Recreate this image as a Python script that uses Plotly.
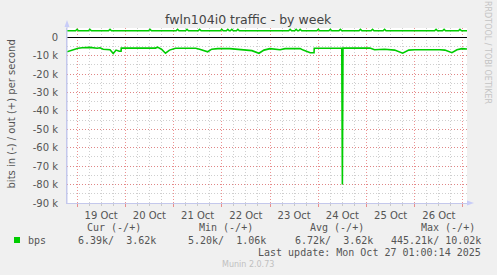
import pandas as pd
import plotly.graph_objects as go

# ---------------- data ----------------
BASE = pd.Timestamp("2025-10-18 19:00")
SPAN_HOURS = 199

# inbound (plotted negative), hours after BASE and kbit/s
in_hours = [0, 1.5, 3.5, 5.5, 7.5, 11.4, 15, 16.4, 18, 21.4, 23, 24.4, 26, 26.9, 27,
            44, 45, 47, 49, 51, 54, 64, 66, 70, 72, 75, 81, 86, 92, 95.5, 98, 101,
            106, 108.5, 116, 117.5, 121, 122.9, 123, 136.7, 137, 137.3, 150.7, 153,
            158, 163, 167, 170, 173, 185.5, 188, 191.5, 194, 196.5, 199]
in_kbps = [-7.9, -7.3, -6.5, -6.0, -5.7, -5.5, -6.0, -5.7, -6.5, -6.8, -8.9, -7.0, -7.6, -7.6, -5.9,
           -5.9, -5.4, -6.5, -8.7, -7.0, -6.0, -6.0, -6.5, -7.9, -6.5, -6.2, -6.2, -6.8, -7.3, -8.7, -7.0, -6.2,
           -6.8, -6.2, -6.2, -7.0, -8.4, -8.4, -6.0, -6.0, -80.0, -5.9, -5.9, -6.8,
           -6.5, -7.0, -8.7, -7.0, -6.8, -6.8, -7.0, -8.4, -6.8, -6.2, -6.4]

# outbound, mostly flat with small blips
out_base_kbps = 3.5
out_blip_kbps = 4.3
out_blip_hours = [5, 11.4, 21.4, 41.3, 55, 59.7, 66, 77, 80, 82, 85, 111, 114, 116,
                  125, 131, 136, 146, 152, 158, 183.6, 187.6, 195.5]

ytick_vals = [0, -10000, -20000, -30000, -40000, -50000, -60000, -70000, -80000, -90000]
ytick_text = ["0", "-10 k", "-20 k", "-30 k", "-40 k", "-50 k", "-60 k", "-70 k", "-80 k", "-90 k"]

legend_headers = ["Cur (-/+)", "Min (-/+)", "Avg (-/+)", "Max (-/+)"]
legend_values = ["6.39k/  3.62k", "5.20k/  1.06k", "6.72k/  3.62k", "445.21k/ 10.02k"]
series_name = "bps"

# ---------------- build ----------------
GREEN = "#00CC00"
in_x = [BASE + pd.Timedelta(hours=h) for h in in_hours]
in_y = [v * 1000 for v in in_kbps]

out_h = [0]
out_v = [out_base_kbps]
for h in out_blip_hours:
    out_h += [h - 0.7, h, h + 0.7]
    out_v += [out_base_kbps, out_blip_kbps, out_base_kbps]
out_h.append(SPAN_HOURS)
out_v.append(out_base_kbps)
out_x = [BASE + pd.Timedelta(hours=h) for h in out_h]
out_y = [v * 1000 for v in out_v]

W, H = 497, 275
L, R, T, B = 67, 30, 28, 72
PW, PH = W - L - R, H - T - B


def px(x):
    return (x - L) / PW


def py(y):
    return (H - B - y) / PH


fig = go.Figure()
fig.add_trace(go.Scatter(x=in_x, y=in_y, mode="lines", line=dict(color=GREEN, width=1.6),
                         name="in", hoverinfo="skip"))
fig.add_trace(go.Scatter(x=out_x, y=out_y, mode="lines", line=dict(color=GREEN, width=1.6),
                         name="out", hoverinfo="skip"))

MAJ = "rgba(230,110,110,0.75)"
MIN = "rgba(175,175,175,0.6)"
TXT = "#555555"
AX = "#c4c8ec"

fig.update_layout(
    width=W, height=H, margin=dict(l=L, r=R, t=T, b=B),
    paper_bgcolor="#F0F0F0", plot_bgcolor="#FFFFFF",
    showlegend=False,
    font=dict(family="DejaVu Sans", size=10, color=TXT),
    xaxis=dict(
        type="date",
        range=[BASE, BASE + pd.Timedelta(hours=SPAN_HOURS)],
        tick0="2025-10-19", dtick=86400000, tickformat="%d %b", ticklabelmode="period",
        showgrid=True, gridcolor=MAJ, griddash="1px,2px", gridwidth=1,
        ticks="outside", ticklen=3, tickcolor=MAJ,
        minor=dict(dtick=6 * 3600 * 1000, showgrid=True, gridcolor=MIN, griddash="1px,2px",
                   ticks="outside", ticklen=2, tickcolor=MIN),
        showline=True, linecolor=AX, linewidth=1,
        zeroline=False,
        tickfont=dict(family="DejaVu Sans", size=10, color=TXT),
        fixedrange=True,
    ),
    yaxis=dict(
        range=[-90000, 5000],
        tickmode="array", tickvals=ytick_vals, ticktext=ytick_text,
        showgrid=True, gridcolor=MAJ, griddash="1px,2px", gridwidth=1,
        minor=dict(tickmode="linear", tick0=0, dtick=5000, showgrid=True, gridcolor=MIN,
                   griddash="1px,2px"),
        ticks="", ticklabelstandoff=6,
        showline=True, linecolor=AX, linewidth=1,
        zeroline=True, zerolinecolor="#000000", zerolinewidth=1.2,
        tickfont=dict(family="DejaVu Sans", size=10, color=TXT),
        fixedrange=True,
    ),
)

ann = []


def add_text(text, x, y, xanchor="center", yanchor="middle", size=10, color=TXT,
             family="DejaVu Sans", angle=0):
    ann.append(dict(text=text, x=px(x), y=py(y), xref="paper", yref="paper",
                    xanchor=xanchor, yanchor=yanchor, showarrow=False, textangle=angle,
                    font=dict(size=size, color=color, family=family)))


add_text("fwln104i0 traffic - by week", 248, 19, size=12.5, color="#444444")
add_text("bits in (-) / out (+) per second", 11, 114.5, size=10, angle=-90)
add_text("RRDTOOL / TOBI OETIKER", 488, 52, size=8, color="#c4c4c4", angle=90)

MONO = "DejaVu Sans Mono"
hdr_right = [142, 254, 365, 476]
val_right = [157, 267, 374, 482]
for t, xr in zip(legend_headers, hdr_right):
    add_text(t, xr + 1, 227.5, xanchor="right", family=MONO)
add_text(series_name, 26, 240, xanchor="left", family=MONO)
for t, xr in zip(legend_values, val_right):
    add_text(t, xr + 1, 240, xanchor="right", family=MONO)
add_text("Last update: Mon Oct 27 01:00:14 2025", 483, 252, xanchor="right", family=MONO)
add_text("Munin 2.0.73", 248, 264, size=8, color="#c0c0c0")

fig.update_layout(annotations=ann)

shapes = []
# legend colour box
shapes.append(dict(type="rect", xref="paper", yref="paper", x0=px(14), x1=px(20), y0=py(243), y1=py(237),
                   fillcolor=GREEN, line=dict(width=0)))
# axis arrows
ARW = "#c8ccf8"
shapes.append(dict(type="path", xref="paper", yref="paper",
                   path=f"M {px(64.5)},{py(27)} L {px(69.5)},{py(27)} L {px(67)},{py(20)} Z",
                   fillcolor=ARW, line=dict(width=0)))
shapes.append(dict(type="line", xref="paper", yref="paper", x0=px(67), x1=px(67), y0=py(203), y1=py(27),
                   line=dict(color=AX, width=1)))
shapes.append(dict(type="path", xref="paper", yref="paper",
                   path=f"M {px(467)},{py(200.5)} L {px(467)},{py(205.5)} L {px(474)},{py(203)} Z",
                   fillcolor=ARW, line=dict(width=0)))
fig.update_layout(shapes=shapes)

fig.write_html("out.html")
